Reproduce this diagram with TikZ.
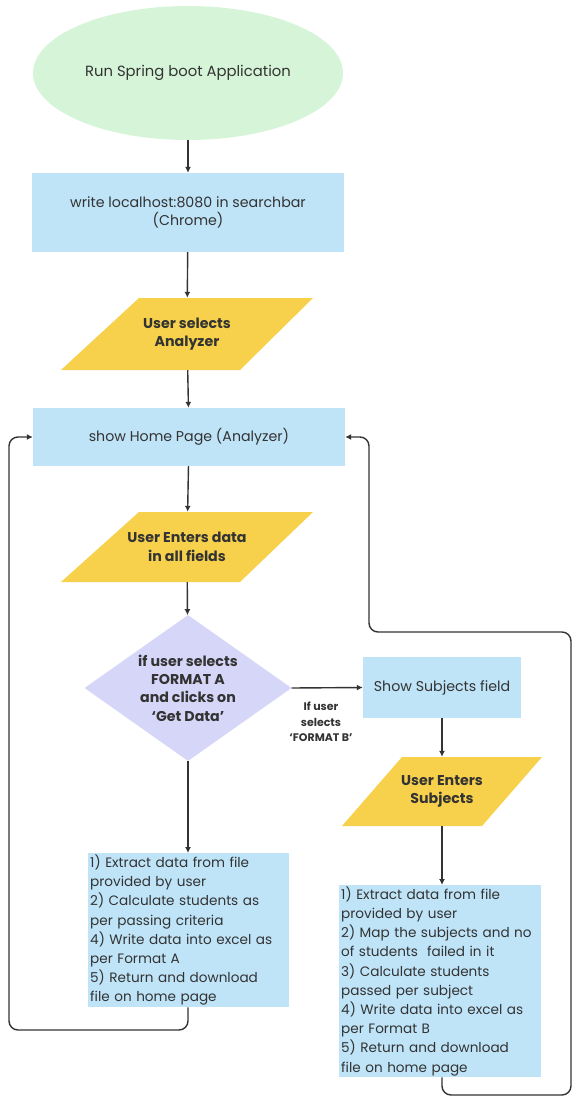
\documentclass[tikz,border=0pt]{standalone}
\usepackage{fontspec}
\setmainfont{Poppins}
\usetikzlibrary{shapes.geometric,arrows.meta}
\definecolor{mint}{HTML}{D6F5D8}
\definecolor{skyb}{HTML}{BFE4F8}
\definecolor{gold}{HTML}{F7D14C}
\definecolor{lav}{HTML}{D6D6F8}
\definecolor{ink}{HTML}{333333}
\tikzset{
  conn/.style={draw=ink, line width=1.4pt, -{Latex[length=6pt,width=6pt]}},
  loopline/.style={draw=ink, line width=1.4pt, rounded corners=9pt, -{Latex[length=6pt,width=6pt]}},
  bluebox/.style={fill=skyb, draw=none, text=ink, font=\fontsize{14.2}{18}\selectfont, align=center, inner sep=0pt},
  listbox/.style={fill=skyb, draw=none, text=ink, font=\fontsize{13.6}{19.2}\selectfont, align=left, anchor=north west, inner xsep=2pt, inner ysep=0pt},
  paratext/.style={text=ink, font=\bfseries\fontsize{14.2}{18.5}\selectfont, align=center, inner sep=0pt},
  paraFill/.style={fill=gold, draw=none},
}
\begin{document}
\begin{tikzpicture}[x=1pt,y=-1pt]
\useasboundingbox (0,0) rectangle (574,1097);
% start ellipse
\node[ellipse, fill=mint, draw=none, minimum width=310pt, minimum height=134pt, inner sep=0pt,
  text=ink, font=\fontsize{14.8}{18}\selectfont] (start) at (188,73) {Run Spring boot Application};
% box 1
\node[bluebox, minimum width=312pt, minimum height=79pt] (b1) at (188,212.5) {write localhost:8080 in searchbar\\(Chrome)};
% para 1
\fill[paraFill] (61,370) -- (240,370) -- (313,298) -- (139,298) -- cycle;
\node[paratext, minimum width=180pt, minimum height=72pt] (p1) at (187,334) {User selects\\Analyzer};
% home
\node[bluebox, minimum width=312pt, minimum height=58pt] (home) at (189,437) {show Home Page (Analyzer)};
% para 2
\fill[paraFill] (61,582) -- (240,582) -- (313,512) -- (139,512) -- cycle;
\node[paratext, minimum width=180pt, minimum height=70pt] (p2) at (187,547) {User Enters data\\in all fields};
% diamond
\node[diamond, fill=lav, draw=none, minimum width=207pt, minimum height=146pt, inner sep=0pt] (dia) at (188,688) {};
\node[text=ink, font=\bfseries\fontsize{14.2}{18.3}\selectfont, align=center, inner sep=0pt] (diat) at (188,688) {if user selects\\FORMAT A\\and clicks on\\‘Get Data’};
% subjects box
\node[bluebox, minimum width=158pt, minimum height=61pt] (subj) at (442,687.5) {Show Subjects field};
% para 3
\fill[paraFill] (342,826) -- (482,826) -- (542,757) -- (402,757) -- cycle;
\node[paratext, minimum width=140pt, minimum height=69pt] (p3) at (442,791.5) {User Enters\\Subjects};
% list boxes
\node[listbox, text width=197pt, minimum height=154pt] (ba) at (88,853) {1) Extract data from file\\provided by user\\2) Calculate students as\\per passing criteria\\4) Write data into excel as\\per Format A\\5) Return and download\\file on home page};
\node[listbox, text width=198pt, minimum height=192pt] (bb) at (339,885) {1) Extract data from file\\provided by user\\2) Map the subjects and no\\of students\ \ failed in it\\3) Calculate students\\passed per subject\\4) Write data into excel as\\per Format B\\5) Return and download\\file on home page};
% label
\node[text=ink, font=\bfseries\fontsize{11}{15.5}\selectfont, align=center, inner sep=0pt] (lbl) at (321,722) {If user\\selects\\‘FORMAT B’};
% connectors
\draw[conn] (start) -- (b1);
\draw[conn] (b1) -- (p1);
\draw[conn] (p1) -- (home);
\draw[conn] (home) -- (p2);
\draw[conn] (p2) -- (dia);
\draw[conn] (dia.east) -- (subj.west);
\draw[conn] (subj) -- (p3);
\draw[conn] (p3.south) -- (p3.south |- bb.north);
\draw[conn] (dia.south) -- (dia.south |- ba.north);
\coordinate (la1) at (188,1030);
\coordinate (la2) at (9,1030);
\coordinate (la3) at (9,437);
\draw[loopline] (ba.south -| dia.south) -- (la1) -- (la2) -- (la3) -- (home.west);
\coordinate (lb1) at (442,1095);
\coordinate (lb2) at (571,1095);
\coordinate (lb3) at (571,632);
\coordinate (lb4) at (369,632);
\coordinate (lb5) at (369,437);
\draw[loopline] (bb.south -| p3.south) -- (lb1) -- (lb2) -- (lb3) -- (lb4) -- (lb5) -- (home.east);
\end{tikzpicture}
\end{document}
